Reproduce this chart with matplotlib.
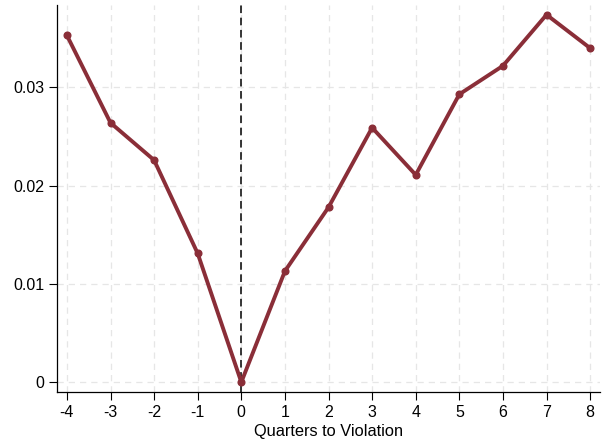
import matplotlib
matplotlib.use('Agg')
import matplotlib.pyplot as plt
import matplotlib as mpl

mpl.rcParams['font.family'] = ['Liberation Sans', 'DejaVu Sans']
mpl.rcParams['axes.spines.right'] = False
mpl.rcParams['axes.spines.top'] = False

# quarters relative to violation and estimated coefficients
quarters = [-4, -3, -2, -1, 0, 1, 2, 3, 4, 5, 6, 7, 8]
coef = [0.0353, 0.0264, 0.0226, 0.0131, 0.0, 0.0113, 0.0178, 0.0259,
        0.0211, 0.0293, 0.0322, 0.0374, 0.0340]
yticks = [0, 0.01, 0.02, 0.03]
ytick_labels = ['0', '0.01', '0.02', '0.03']

fig = plt.figure(figsize=(6.05, 4.45), dpi=100)
ax = fig.add_axes([0.094, 0.118, 0.898, 0.871])

ax.grid(True, color='#e6e6e6', linestyle=(0, (5, 4)), linewidth=0.9)
ax.set_axisbelow(True)

ax.axvline(0, color='black', linestyle=(0, (5, 3)), linewidth=1.1, zorder=2)
ax.plot(quarters, coef, color='#8a2e38', linewidth=2.8, marker='o',
        markersize=4.8, zorder=3)

ax.set_xlim(-4.23, 8.23)
ax.set_ylim(-0.00105, 0.0384)
ax.set_xticks(quarters)
ax.set_xticklabels([str(q) for q in quarters])
ax.set_yticks(yticks)
ax.set_yticklabels(ytick_labels)
ax.tick_params(axis='both', labelsize=11.5, length=6, width=0.8, pad=3)
ax.set_xlabel('Quarters to Violation', fontsize=11.8, labelpad=3)

for s in ['left', 'bottom']:
    ax.spines[s].set_linewidth(0.9)

plt.savefig('out.png', dpi=100)
